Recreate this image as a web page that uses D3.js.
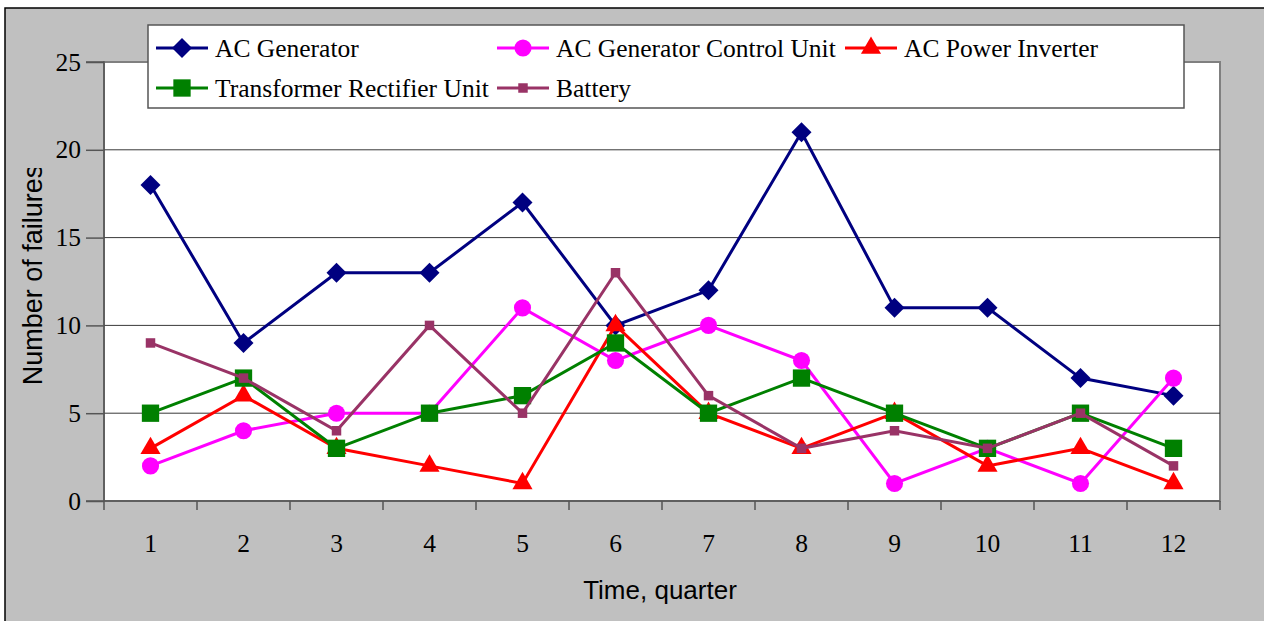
<!DOCTYPE html>
<html>
<head>
<meta charset="utf-8">
<script src="https://cdn.jsdelivr.net/npm/d3@7"></script>
<style>
  body { margin: 0; background: #fff; }
  svg { display: block; }
  .tick-label { font-family: "Liberation Serif", "Times New Roman", serif; font-size: 25.5px; fill: #000; }
  .axis-title { font-family: "Liberation Sans", Arial, sans-serif; font-size: 26px; fill: #000; }
  .legend text { font-family: "Liberation Serif", "Times New Roman", serif; font-size: 25.5px; fill: #000; }
</style>
</head>
<body>
<svg id="plot"></svg>
<script>
const W = 1264, H = 621;
const margin = { top: 62, right: 44, bottom: 120, left: 104 };
const width = W - margin.left - margin.right;
const height = H - margin.top - margin.bottom;

// Data
const quarters = [1, 2, 3, 4, 5, 6, 7, 8, 9, 10, 11, 12];
const acGenerator = [18, 9, 13, 13, 17, 10, 12, 21, 11, 11, 7, 6];
const acGenControl = [2, 4, 5, 5, 11, 8, 10, 8, 1, 3, 1, 7];
const acPowerInverter = [3, 6, 3, 2, 1, 10, 5, 3, 5, 2, 3, 1];
const transformerRectifier = [5, 7, 3, 5, 6, 9, 5, 7, 5, 3, 5, 3];
const battery = [9, 7, 4, 10, 5, 13, 6, 3, 4, 3, 5, 2];
const yTicks = [0, 5, 10, 15, 20, 25];

// diamond = square turned 45 degrees
const series = [
  { name: "AC Generator", values: acGenerator, color: "#000080", symbol: d3.symbolSquare, size: 200, rot: 45 },
  { name: "AC Generator Control Unit", values: acGenControl, color: "#FF00FF", symbol: d3.symbolCircle, size: 230, rot: 0 },
  { name: "AC Power Inverter", values: acPowerInverter, color: "#FF0000", symbol: d3.symbolTriangle, size: 175, rot: 0 },
  { name: "Transformer Rectifier Unit", values: transformerRectifier, color: "#008000", symbol: d3.symbolSquare, size: 300, rot: 0 },
  { name: "Battery", values: battery, color: "#993366", symbol: d3.symbolSquare, size: 90, rot: 0 },
];

const root = d3.select("#plot").attr("width", W).attr("height", H);

// chart area background
root.append("rect").attr("x", 5).attr("y", 8).attr("width", W).attr("height", H)
  .attr("fill", "#C0C0C0").attr("stroke", "#000").attr("stroke-width", 1.5);

const svg = root.append("g").attr("transform", `translate(${margin.left},${margin.top})`);

const x = d3.scaleBand().domain(quarters).range([0, width]);
const y = d3.scaleLinear().domain([0, 25]).range([height, 0]);
const cx = q => x(q) + x.bandwidth() / 2;

// plot area
svg.append("rect").attr("width", width).attr("height", height)
  .attr("fill", "#fff").attr("stroke", "#808080").attr("stroke-width", 2);

// gridlines
svg.selectAll(".grid").data(yTicks.filter(d => d > 0 && d < 25)).enter()
  .append("line").attr("x1", 0).attr("x2", width)
  .attr("y1", d => y(d)).attr("y2", d => y(d))
  .attr("stroke", "#222").attr("stroke-width", 0.9);

// y axis
const yAxis = svg.append("g").call(d3.axisLeft(y).tickValues(yTicks).tickSize(18).tickPadding(5));
yAxis.attr("font-size", null).attr("font-family", null);
yAxis.select(".domain").attr("stroke", "#555").attr("stroke-width", 1.5).attr("d", `M-18,0H0V${height}H-18`);
yAxis.selectAll(".tick line").attr("stroke", "#555").attr("stroke-width", 1.5);
yAxis.selectAll(".tick text").attr("class", "tick-label");

// x axis: ticks between categories
const xAxisG = svg.append("g").attr("transform", `translate(0,${height})`);
xAxisG.append("line").attr("x1", 0).attr("x2", width).attr("stroke", "#555").attr("stroke-width", 1.5);
const bounds = quarters.map(q => x(q)).concat([width]);
xAxisG.selectAll(".xt").data(bounds).enter().append("line")
  .attr("x1", d => d).attr("x2", d => d).attr("y1", 0).attr("y2", 9)
  .attr("stroke", "#555").attr("stroke-width", 1.5);
xAxisG.selectAll(".xl").data(quarters).enter().append("text")
  .attr("class", "tick-label").attr("x", d => cx(d)).attr("y", 51)
  .attr("text-anchor", "middle")
  .text(d => d);

// axis titles
svg.append("text").attr("class", "axis-title")
  .attr("x", width / 2 - 2).attr("y", height + 98).attr("text-anchor", "middle")
  .text("Time, quarter");

root.append("clipPath").attr("id", "ylab-clip").append("rect")
  .attr("x", 0).attr("y", 168).attr("width", 100).attr("height", 300);
root.append("g").attr("clip-path", "url(#ylab-clip)")
  .append("text").attr("class", "axis-title")
  .style("font-size", "27px")
  .attr("transform", "translate(42,275) rotate(-90)")
  .attr("text-anchor", "middle")
  .text("Number of failures");

// lines and markers
const line = d3.line().x((d, i) => cx(quarters[i])).y(d => y(d));
series.forEach(s => {
  svg.append("path").datum(s.values)
    .attr("fill", "none").attr("stroke", s.color).attr("stroke-width", 3)
    .attr("d", line);
  svg.selectAll(null).data(s.values).enter().append("path")
    .attr("d", d3.symbol().type(s.symbol).size(s.size))
    .attr("transform", (d, i) => `translate(${cx(quarters[i])},${y(d)}) rotate(${s.rot})`)
    .attr("fill", s.color);
});

// legend
const legend = root.append("g").attr("class", "legend");
legend.append("rect").attr("x", 148).attr("y", 25).attr("width", 1036).attr("height", 83)
  .attr("fill", "#fff").attr("stroke", "#555").attr("stroke-width", 1.5);
const legendPos = [
  [156, 48], [497, 48], [845, 48],
  [156, 88], [497, 88],
];
series.forEach((s, k) => {
  const [lx, ly] = legendPos[k];
  const g = legend.append("g").attr("transform", `translate(${lx},${ly})`);
  g.append("line").attr("x1", 0).attr("x2", 52).attr("stroke", s.color).attr("stroke-width", 3);
  g.append("path").attr("d", d3.symbol().type(s.symbol).size(s.size))
    .attr("transform", `translate(26,0) rotate(${s.rot})`).attr("fill", s.color);
  g.append("text").attr("x", 59).attr("y", 9).text(s.name);
});
</script>
</body>
</html>
